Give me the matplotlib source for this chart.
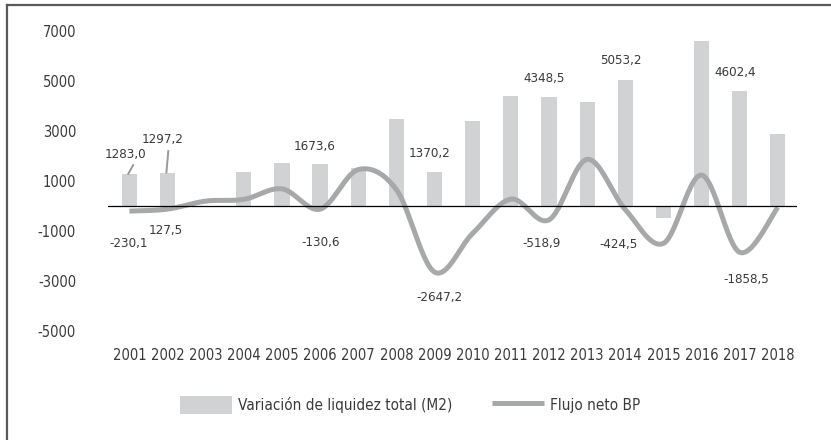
import matplotlib.pyplot as plt
import numpy as np
from matplotlib.lines import Line2D

plt.rcParams['font.family'] = 'DejaVu Sans'
plt.rcParams['font.stretch'] = 'condensed'
plt.rcParams['axes.unicode_minus'] = False
plt.rcParams['text.color'] = '#3a3a3a'

years = [2001, 2002, 2003, 2004, 2005, 2006, 2007, 2008, 2009,
         2010, 2011, 2012, 2013, 2014, 2015, 2016, 2017, 2018]
liquidez = [1283.0, 1297.2, 0, 1350, 1700, 1673.6, 1500, 3470, 1370.2,
            3390, 4390, 4348.5, 4150, 5053.2, -490, 6590, 4602.4, 2870]
flujo = [-210, -130, 190, 260, 680, -130.6, 1450, 650, -2647.2,
         -1100, 270, -560, 1860, -150, -1500, 1230, -1858.5, -60]

# labels written in the chart (text, x, y)
label_text = ['1283,0', '1297,2', '1673,6', '1370,2', '4348,5', '5053,2', '4602,4',
              '-230,1', '127,5', '-130,6', '-2647,2', '-518,9', '-424,5', '-1858,5']
label_x = [2000.9, 2001.87, 2005.86, 2008.87, 2011.87, 2013.89, 2016.88,
           2000.97, 2001.94, 2006.01, 2009.14, 2011.81, 2013.81, 2017.17]
label_y = [2070, 2670, 2390, 2110, 5110, 5830, 5350,
           -1490, -970, -1450, -3650, -1490, -1530, -2930]
yticks = [-5000, -3000, -1000, 1000, 3000, 5000, 7000]


def smooth(x, y, n=30):
    """ Catmull-Rom curve through the points, like the 'smoothed line' of a spreadsheet """
    x = np.asarray(x, dtype=float)
    y = np.asarray(y, dtype=float)
    px = np.concatenate(([x[0]], x, [x[-1]]))
    py = np.concatenate(([y[0]], y, [y[-1]]))
    xs, ys = [], []
    t = np.linspace(0, 1, n)
    for i in range(1, len(px) - 2):
        for p, out in ((px, xs), (py, ys)):
            p0, p1, p2, p3 = p[i - 1], p[i], p[i + 1], p[i + 2]
            out.extend(0.5 * (2 * p1 + (-p0 + p2) * t + (2 * p0 - 5 * p1 + 4 * p2 - p3) * t ** 2
                              + (-p0 + 3 * p1 - 3 * p2 + p3) * t ** 3))
    return np.array(xs), np.array(ys)


fig = plt.figure(figsize=(8.31, 4.4), dpi=100)
ax = fig.add_axes([0.130, 0.248, 0.829, 0.716])

bars = ax.bar(years, liquidez, width=0.4, color='#d1d2d4', label='Variación de liquidez total (M2)', zorder=1)
sx, sy = smooth(years, flujo)
line, = ax.plot(sx, sy, color='#a7a8aa', linewidth=3.6, solid_capstyle='butt', label='Flujo neto BP', zorder=2)
ax.axhline(0, color='black', linewidth=0.9, zorder=3)

for txt, lx, ly in zip(label_text, label_x, label_y):
    ax.text(lx, ly, txt, ha='center', va='center', fontsize=9.5, color='#3a3a3a')

# leader lines of the first two labels
ax.plot([years[0] - 0.03, years[0] + 0.1], [liquidez[0], 1630], color='#9a9a9a', linewidth=1.4)
ax.plot([years[1] - 0.03, years[1] + 0.02], [liquidez[1] + 40, 2190], color='#9a9a9a', linewidth=1.4)

ax.set_xlim(2000.44, 2018.5)
ax.set_ylim(-5000, 7600)
ax.set_xticks(years)
ax.set_xticklabels([str(y) for y in years])
ax.set_yticks(yticks)
ax.tick_params(axis='both', length=0, labelsize=10.5, labelcolor='#3a3a3a')
ax.tick_params(axis='y', pad=23)
ax.tick_params(axis='x', pad=12)
for side in ['top', 'right', 'bottom', 'left']:
    ax.spines[side].set_visible(False)

fig.legend(handles=[bars, line], loc='center', bbox_to_anchor=(410 / 831, 1 - 405 / 440),
           ncol=2, frameon=False, fontsize=11, handlelength=3.4, handleheight=1.5,
           handletextpad=0.4, columnspacing=2.6)

# frame round the chart
fig.add_artist(Line2D([7 / 831, 7 / 831], [0, 1 - 5 / 440], color='#5a5a5a', linewidth=1.6))
fig.add_artist(Line2D([7 / 831, 830 / 831], [1 - 5 / 440, 1 - 5 / 440], color='#5a5a5a', linewidth=1.6))

fig.savefig('out.png', dpi=100)
